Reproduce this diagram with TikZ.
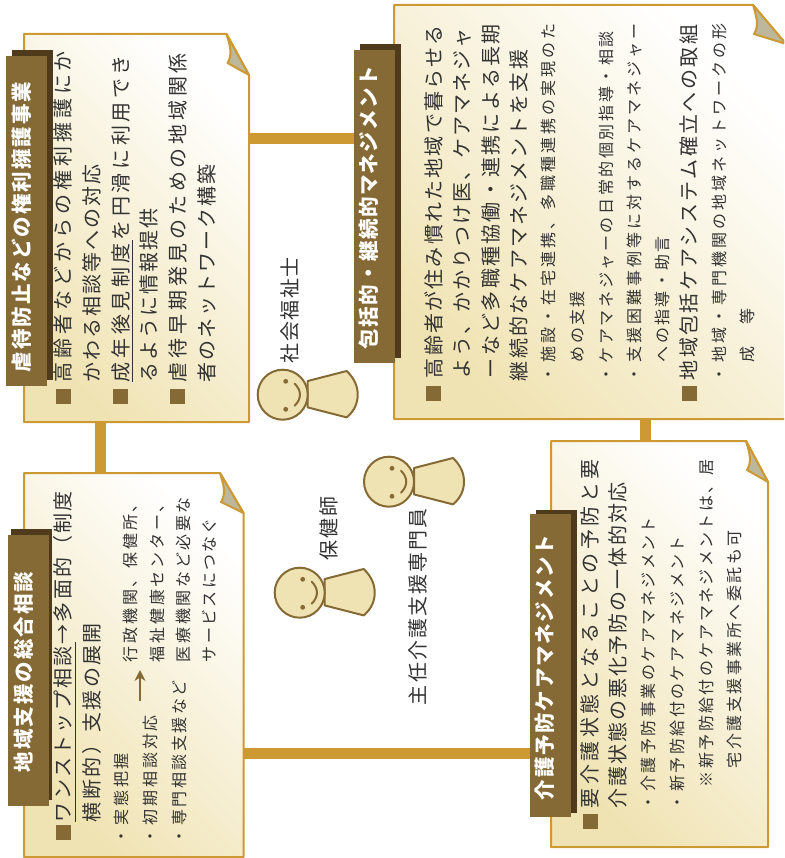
\documentclass[tikz,border=0pt]{standalone}
\usepackage{fontspec}
\usetikzlibrary{arrows.meta}
\newfontfamily\cjk{Noto Sans CJK JP}
\definecolor{edgegold}{HTML}{CC9933}
\definecolor{barbrown}{HTML}{856A35}
\definecolor{bardark}{HTML}{4F3A1B}
\definecolor{flapgrey}{HTML}{BDB79B}
\definecolor{cream}{HTML}{F0E3B3}
\definecolor{inkdark}{HTML}{333333}
\makeatletter
\newcommand\spreadbox[2]{\hbox to #1{\rule[-0.12em]{0pt}{1em}\def\sp@c{}\@tfor\ch@r:=#2\do{\sp@c\ch@r\def\sp@c{\hfil}}}}
\makeatother
\newcount\tlc
% size, x centre, y bottom, y top, text
\newcommand\tline[5]{\global\advance\tlc by 1\relax
  \node[tlabel,font=\cjk\fontsize{#1}{#1}\selectfont] (tl\the\tlc) at (#2,#3) {\spreadbox{\dimexpr #3pt-#4pt\relax}{#5}};}
\newcommand\ttitle[5]{\global\advance\tlc by 1\relax
  \node[tlabel,text=white,font=\cjk\bfseries\fontsize{#1}{#1}\selectfont] (tl\the\tlc) at (#2,#3) {\spreadbox{\dimexpr #3pt-#4pt\relax}{#5}};}
% name, l, t, r, b
\newcommand\areanode[5]{\node[areabox,minimum width={(#4-#2)*1pt},minimum height={(#5-#3)*1pt}] (#1) at ({(#2+#4)/2},{(#3+#5)/2}) {};}
% l, t, r, b, fold x, fold y
\newcommand\paper[6]{
  \shadedraw[papersheet] (#1,#2) -- (#5,#2) -- (#3,#6) -- (#3,#4) -- (#1,#4) -- cycle;
  \filldraw[flap] (#5,#2) .. controls ({#5+4},{#2+13}) and ({#5+6},{#2+21}) .. ({#5+1},{#2+29}) -- (#3,#6) -- cycle;
}
% name, l, t, r, b
\newcommand\barbox[5]{\node[inner sep=0pt,fill=barbrown,minimum width={(#4-#2)*1pt},minimum height={(#5-#3)*1pt}] (#1) at ({(#2+#4)/2},{(#3+#5)/2}) {};}
\newcommand\barshadow[5]{\node[inner sep=0pt,fill=bardark,minimum width={(#4-#2)*1pt},minimum height={(#5-#3)*1pt}] (#1) at ({(#2+#4)/2},{(#3+#5)/2}) {};}
% name, x, y of square centre
\newcommand\sqbullet[3]{\node[inner sep=0pt,minimum size=15pt,fill=barbrown] (#1) at (#2,#3) {};}
% name, head centre
\newcommand\person[3]{
  \filldraw[figure] (#2+25,#3-13.7) -- (#2+64,#3-23.7) .. controls (#2+72,#3-16) and (#2+75,#3-8) .. (#2+75,#3)
     .. controls (#2+75,#3+8) and (#2+72,#3+16) .. (#2+64,#3+22.7) -- (#2+25,#3+12.7) -- cycle;
  \node[figure,circle,draw,fill=cream,inner sep=0pt,minimum size=50pt] (#1) at (#2,#3) {};
  \fill[barbrown] (#2+3,#3-13.4) circle[radius=2.4] (#2+3,#3+14.6) circle[radius=2.4];
  \draw[barbrown,line width=2pt,line cap=round] (#2+12,#3-11) .. controls (#2+19,#3-4) and (#2+19,#3+4) .. (#2+12,#3+11);
}
\tikzset{
  tlabel/.style={rotate=90,anchor=west,inner sep=0pt,outer sep=0pt,text=inkdark},
  areabox/.style={inner sep=0pt,outer sep=0pt},
  papersheet/.style={draw=edgegold,line width=2pt,line join=round,top color=white,bottom color=cream,shading angle=-45},
  flap/.style={draw=edgegold,fill=flapgrey,line width=2pt,line join=round},
  linkbar/.style={draw=edgegold,line width=11pt},
  figure/.style={draw=barbrown,fill=cream,line width=2pt,line join=round},
  rulemark/.style={draw=inkdark,line width=0.8pt},
}
\begin{document}
\begin{tikzpicture}[x=1pt,y=-1pt]
\useasboundingbox (0,0) rectangle (784,858);
\clip (0,0) rectangle (784,858);
% anchor areas
\areanode{paperA}{24}{34}{249}{422}
\areanode{paperB}{394}{5}{786}{419}
\areanode{paperC}{24}{473}{243.5}{857}
\areanode{paperD}{551}{441}{768}{847}
\areanode{headB}{354}{50}{395}{363}
\areanode{headD}{530}{514}{571}{817}
% connectors
\draw[linkbar] (paperA.east |- 0,138.7) -- (headB.west |- 0,138.7);
\draw[linkbar] (paperA.south -| 100.5,0) -- (paperC.north -| 100.5,0);
\draw[linkbar] (paperC.east |- 0,753) -- (headD.west |- 0,753);
\draw[linkbar] (paperB.south -| 645,0) -- (paperD.north -| 645,0);
% sheets
\paper{24}{34}{249}{422}{226.5}{75}
\paper{394}{5}{786}{419}{753}{44}
\paper{24}{473}{243.5}{857}{220}{513}
\paper{551}{441}{768}{847}{746}{482}
% title bars
\barshadow{shadowA}{12}{50}{53}{380}
\barbox{titleA}{6}{56}{46.7}{386}
\barshadow{shadowB}{360}{44}{401}{358}
\barbox{titleB}{354}{50}{395}{363}
\barshadow{shadowC}{11}{529}{52}{800}
\barbox{titleC}{8}{535}{49}{806}
\barshadow{shadowD}{536}{510}{577}{813}
\barbox{titleD}{530}{514}{571}{817}
\ttitle{20.5}{22}{372}{82}{虐待防止などの権利擁護事業}
\ttitle{20.5}{369}{349}{66}{包括的・継続的マネジメント}
\ttitle{20.5}{24}{772}{572}{地域支援の総合相談}
\ttitle{20.5}{545}{800}{535}{介護予防ケアマネジメント}
% box A
\sqbullet{sqA1}{63.5}{396.5}
\sqbullet{sqA2}{120.5}{396.5}
\sqbullet{sqA3}{177.5}{396.5}
\tline{20}{63}{382}{51}{高齢者などからの権利擁護にか}
\tline{20}{92}{382}{164}{かわる相談等への対応}
\tline{20}{121}{382}{55}{成年後見制度を円滑に利用でき}
\tline{20}{149}{382}{208}{るように情報提供}
\tline{20}{178}{382}{53}{虐待早期発見のための地域関係}
\tline{20}{207}{382}{164}{者のネットワーク構築}
\draw[rulemark] (132,382) -- (132,240);
% box B
\sqbullet{sqB1}{433.5}{393.5}
\sqbullet{sqB2}{689.5}{393.5}
\tline{20}{434}{378}{25}{高齢者が住み慣れた地域で暮らせる}
\tline{20}{462}{378}{28}{よう、かかりつけ医、ケアマネジャ}
\tline{20}{491}{378}{24}{ーなど多職種協働・連携による長期}
\tline{20}{519}{381}{50}{継続的なケアマネジメントを支援}
\tline{16}{548}{382}{23}{・施設・在宅連携、多職種連携の実現のた}
\tline{16}{577}{362}{291}{めの支援}
\tline{16}{606}{382}{31}{・ケアマネジャーの日常的個別指導・相談}
\tline{16}{634}{382}{23}{・支援困難事例等に対するケアマネジャー}
\tline{16}{662}{362}{236}{への指導・助言}
\tline{20}{689}{380}{25}{地域包括ケアシステム確立への取組}
\tline{16}{719}{382}{23}{・地域・専門機関の地域ネットワークの形}
\tline{16}{747}{362}{308}{成　等}
% box C
\sqbullet{sqC1}{63.5}{832.5}
\tline{20}{63}{822}{491}{ワンストップ相談→多面的（制度}
\tline{20}{92}{822}{623}{横断的）支援の展開}
\draw[rulemark] (75,822) -- (75,642);
\tline{16}{121}{844}{753}{・実態把握}
\tline{16}{150}{844}{715}{・初期相談対応}
\tline{16}{179}{844}{680}{・専門相談支援など}
\coordinate (arrowfoot) at (140,701);
\coordinate (arrowtip) at (140,670);
\draw[barbrown,line width=1.5pt,-{Stealth[length=11pt,width=11pt]}] (arrowfoot) -- (arrowtip);
\tline{16}{130}{662}{496}{行政機関、保健所、}
\tline{16}{157}{662}{496}{福祉健康センター、}
\tline{16}{183}{662}{497}{医療機関など必要な}
\tline{16}{209}{662}{518}{サービスにつなぐ}
% box D
\sqbullet{sqD1}{590.5}{821.5}
\tline{20}{590}{808}{459}{要介護状態となることの予防と要}
\tline{20}{618}{808}{482}{介護状態の悪化予防の一体的対応}
\tline{16}{648}{810}{517}{・介護予防事業のケアマネジメント}
\tline{16}{677}{810}{536}{・新予防給付のケアマネジメント}
\tline{16}{706}{787}{459}{※新予防給付のケアマネジメントは、居}
\tline{16}{734}{768}{530}{宅介護支援事業所へ委託も可}
% people
\person{headP1}{282.7}{394.7}
\person{headP2}{389}{481.7}
\person{headP3}{299.7}{592.7}
\tline{20}{290}{363}{257}{社会福祉士}
\tline{20}{329}{560}{496}{保健師}
\tline{20}{418}{705}{508}{主任介護支援専門員}
\end{tikzpicture}
\end{document}
